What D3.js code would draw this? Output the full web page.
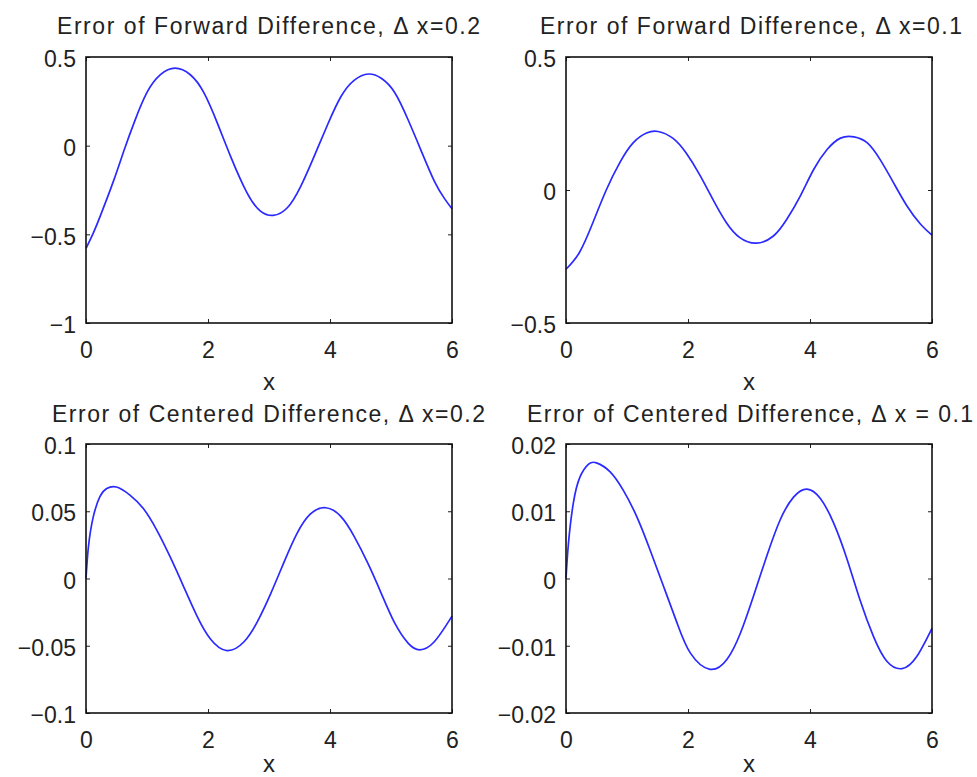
<!DOCTYPE html>
<html>
<head>
<meta charset="utf-8">
<script src="https://cdn.jsdelivr.net/npm/d3@7"></script>
<style>
  html, body { margin: 0; padding: 0; background: #fff; }
  svg { display: block; }
  text { font-family: "Liberation Sans", Arial, Helvetica, sans-serif; fill: #222; }
</style>
</head>
<body>
<svg id="chart" width="977" height="777"></svg>
<script>
// ---------- DATA ----------
const titles = [
  "Error of Forward Difference, \u0394 x=0.2",
  "Error of Forward Difference, \u0394 x=0.1",
  "Error of Centered Difference, \u0394 x=0.2",
  "Error of Centered Difference, \u0394 x = 0.1"
];
const xLabel = "x";
const xDomain = [0, 6];
const xTicks = [0, 2, 4, 6];

const yDomains = [[-1, 0.5], [-0.5, 0.5], [-0.1, 0.1], [-0.02, 0.02]];
const yTicks = [
  [-1, -0.5, 0, 0.5],
  [-0.5, 0, 0.5],
  [-0.1, -0.05, 0, 0.05, 0.1],
  [-0.02, -0.01, 0, 0.01, 0.02]
];
const yTickLabels = [
  ["\u22121", "\u22120.5", "0", "0.5"],
  ["\u22120.5", "0", "0.5"],
  ["\u22120.1", "\u22120.05", "0", "0.05", "0.1"],
  ["\u22120.02", "\u22120.01", "0", "0.01", "0.02"]
];

// Forward difference, dx = 0.2
const fwd02X = [0, 0.11, 0.23, 0.45, 0.63, 0.80, 1.00, 1.22, 1.46, 1.71, 1.93, 2.15, 2.37, 2.64, 2.86, 3.07, 3.30, 3.52, 3.74, 3.96, 4.18, 4.40, 4.63, 4.84, 5.06, 5.28, 5.49, 5.71, 5.88, 6.00];
const fwd02Y = [-0.579, -0.50, -0.40, -0.20, -0.02, 0.14, 0.30, 0.40, 0.437, 0.40, 0.30, 0.13, -0.06, -0.266, -0.369, -0.393, -0.35, -0.229, -0.06, 0.118, 0.277, 0.37, 0.404, 0.38, 0.30, 0.146, -0.025, -0.20, -0.30, -0.356];

// Forward difference, dx = 0.1
const fwd01X = [0, 0.22, 0.44, 0.66, 0.88, 1.10, 1.32, 1.51, 1.75, 1.97, 2.19, 2.41, 2.63, 2.85, 3.12, 3.40, 3.62, 3.84, 4.06, 4.28, 4.50, 4.72, 4.94, 5.15, 5.37, 5.59, 5.81, 6.00];
const fwd01Y = [-0.298, -0.235, -0.123, 0.0, 0.102, 0.177, 0.214, 0.220, 0.195, 0.139, 0.058, -0.036, -0.123, -0.179, -0.200, -0.173, -0.110, -0.023, 0.077, 0.152, 0.195, 0.200, 0.177, 0.114, 0.027, -0.060, -0.128, -0.170];

// Centered difference, dx = 0.2
const cen02X = [0, 0.04, 0.12, 0.23, 0.34, 0.50, 0.72, 0.94, 1.16, 1.38, 1.60, 1.82, 2.04, 2.31, 2.59, 2.81, 3.03, 3.25, 3.46, 3.68, 3.93, 4.18, 4.40, 4.62, 4.84, 5.06, 5.28, 5.47, 5.71, 6.00];
const cen02Y = [0, 0.0237, 0.046, 0.061, 0.0669, 0.068, 0.062, 0.052, 0.036, 0.016, -0.006, -0.028, -0.045, -0.0536, -0.047, -0.032, -0.011, 0.0126, 0.0336, 0.048, 0.0526, 0.046, 0.031, 0.0114, -0.011, -0.033, -0.048, -0.053, -0.047, -0.028];

// Centered difference, dx = 0.1
const cen01X = [0, 0.04, 0.12, 0.23, 0.37, 0.50, 0.72, 0.94, 1.16, 1.38, 1.60, 1.82, 2.04, 2.36, 2.64, 2.86, 3.07, 3.29, 3.51, 3.73, 3.95, 4.17, 4.39, 4.61, 4.82, 5.04, 5.26, 5.51, 5.75, 6.00];
const cen01Y = [0, 0.0052, 0.0112, 0.0151, 0.0170, 0.0172, 0.0159, 0.0131, 0.0092, 0.0042, -0.0012, -0.0066, -0.0111, -0.0135, -0.0120, -0.0081, -0.0027, 0.0033, 0.0087, 0.0121, 0.0133, 0.0119, 0.0082, 0.0028, -0.0032, -0.0086, -0.0123, -0.0134, -0.0116, -0.0074];

const seriesX = [fwd02X, fwd01X, cen02X, cen01X];
const seriesY = [fwd02Y, fwd01Y, cen02Y, cen01Y];

// ---------- LAYOUT ----------
const boxes = [
  { left: 86,  top: 57,  width: 366, height: 266 },
  { left: 566, top: 57,  width: 366, height: 266 },
  { left: 86,  top: 444, width: 366, height: 269 },
  { left: 566, top: 444, width: 366, height: 269 }
];
const titleWidths = [423, 422, 433, 446];
const titleCenters = [268.5, 751, 268.5, 750];

const svg = d3.select("#chart");
const fontSize = 23;
const tickLen = 4;

boxes.forEach((b, i) => {
  const g = svg.append("g").attr("transform", `translate(${b.left},${b.top})`);
  const x = d3.scaleLinear().domain(xDomain).range([0, b.width]);
  const y = d3.scaleLinear().domain(yDomains[i]).range([b.height, 0]);

  // curve
  const pts = seriesX[i].map((xv, k) => [xv, seriesY[i][k]]);
  const line = d3.line()
    .x(d => x(d[0]))
    .y(d => y(d[1]))
    .curve(d3.curveNatural);
  g.append("path")
    .datum(pts)
    .attr("d", line)
    .attr("fill", "none")
    .attr("stroke", "#2a2aff")
    .attr("stroke-width", 1.7);

  // axes
  const bottom = g.append("g").attr("transform", `translate(0,${b.height})`)
    .call(d3.axisBottom(x).tickValues(xTicks).tickSize(-tickLen).tickPadding(19)
      .tickFormat(d3.format("d")));
  const top = g.append("g")
    .call(d3.axisTop(x).tickValues(xTicks).tickSize(-tickLen).tickFormat(""));
  const left = g.append("g")
    .call(d3.axisLeft(y).tickValues(yTicks[i]).tickSize(-tickLen).tickPadding(10)
      .tickFormat((d, k) => yTickLabels[i][k]));
  const right = g.append("g").attr("transform", `translate(${b.width},0)`)
    .call(d3.axisRight(y).tickValues(yTicks[i]).tickSize(-tickLen).tickFormat(""));

  [bottom, top, left, right].forEach(a => {
    a.select(".domain").remove();
    a.selectAll(".tick line").attr("stroke", "#222").attr("stroke-width", 1);
    a.selectAll("text").attr("font-size", fontSize).attr("fill", "#222")
      .attr("font-family", "'Liberation Sans', Arial, Helvetica, sans-serif");
  });
  left.selectAll(".tick text").attr("dy", "0.42em");

  // box
  g.append("rect")
    .attr("x", 0).attr("y", 0)
    .attr("width", b.width).attr("height", b.height)
    .attr("fill", "none").attr("stroke", "#111").attr("stroke-width", 1.6);

  // title
  svg.append("text")
    .attr("x", titleCenters[i])
    .attr("y", i < 2 ? 34 : 422)
    .attr("text-anchor", "middle")
    .attr("font-size", fontSize)
    .attr("textLength", titleWidths[i])
    .attr("lengthAdjust", "spacing")
    .text(titles[i]);

  // x label
  g.append("text")
    .attr("x", b.width / 2)
    .attr("y", b.height + (i < 2 ? 67 : 59))
    .attr("text-anchor", "middle")
    .attr("font-size", fontSize + 1)
    .text(xLabel);
});
</script>
</body>
</html>
